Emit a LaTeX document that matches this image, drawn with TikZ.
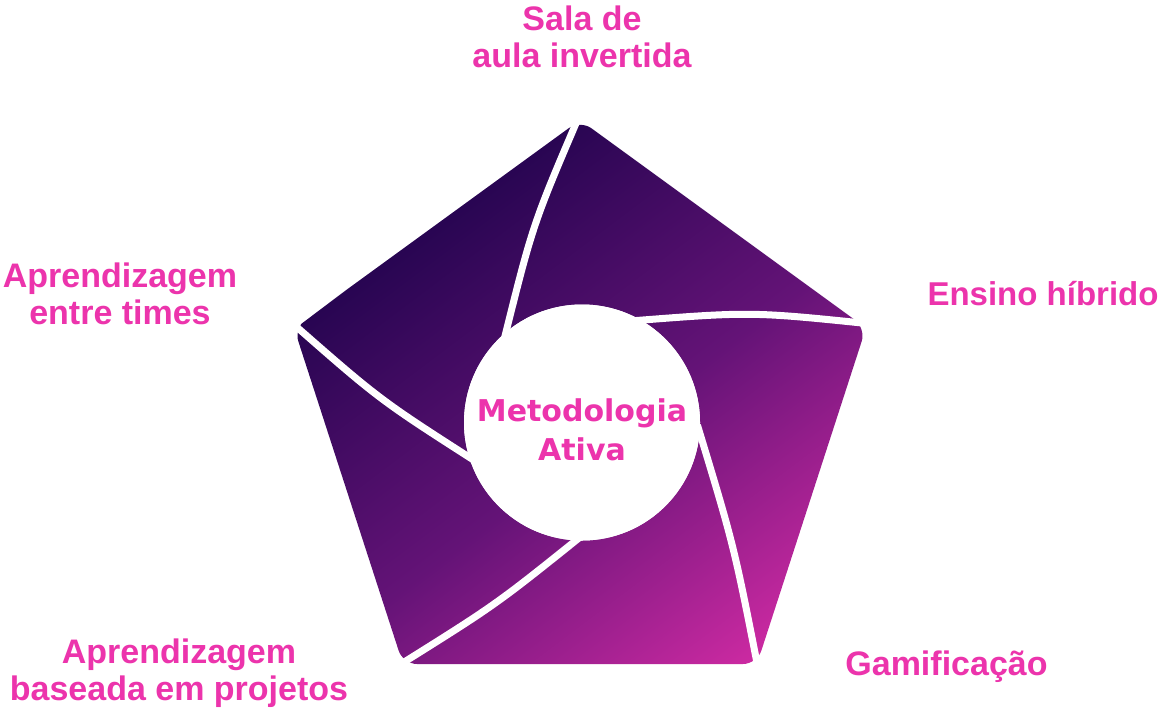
\documentclass[tikz,border=0pt]{standalone}
\usepackage{fontspec}
\setmainfont{Liberation Sans}
\newfontfamily\hubfont{DejaVu Sans}
\usetikzlibrary{calc}
\definecolor{lblpink}{RGB}{236,52,172}
\definecolor{gdark}{RGB}{40,5,82}
\definecolor{gmid}{RGB}{100,19,119}
\definecolor{gbright}{RGB}{205,42,162}
\begin{document}
\begin{tikzpicture}[x=1pt,y=-1pt,
  lbl/.style={text=lblpink, font=\bfseries\fontsize{34}{37}\selectfont, align=center, inner sep=0pt},
  gapline/.style={draw=white, line width=7pt, shorten <=-14pt, shorten >=-8pt},
  hubstyle/.style={circle, fill=white, minimum size=236pt, inner sep=0pt},
  ]
\useasboundingbox[fill=white] (0,0) rectangle (1161,710);
% pentagon corners
\coordinate (T) at (580,120);
\coordinate (R) at (866,328);
\coordinate (BR) at (757,664);
\coordinate (BL) at (403,664);
\coordinate (L) at (294,328);
\begin{scope}
  \clip[rounded corners=14pt] (T) -- (R) -- (BR) -- (BL) -- (L) -- cycle;
  \begin{scope}[transform canvas={rotate around={37:(596,443)}}]
    \shade[top color=gdark, bottom color=gbright, middle color=gmid] (196,170.5) rectangle (996,715.5);
  \end{scope}
\end{scope}
% central disc
\node[hubstyle] (hub) at (582,422.5) {};
% gap starting points near the corners
\coordinate (V1) at (577,121);
\coordinate (V2) at (862,323);
\coordinate (V3) at (757,663);
\coordinate (V4) at (409,659);
\coordinate (V5) at (299,329);
\coordinate (E1) at (hub.130);
\coordinate (E2) at (hub.60);
\coordinate (E3) at (hub.355);
\coordinate (E4) at (hub.267);
\coordinate (E5) at (hub.197);
\foreach \i/\b in {1/9,2/10,3/6,4/6,5/8}{
  \draw[gapline] (V\i) .. controls ($(V\i)!0.5!(E\i)!\b pt!-90:(E\i)$) .. (E\i);
}
\node[hubstyle] at (hub) {};
\node[text=lblpink, font=\hubfont\bfseries\fontsize{30}{39}\selectfont, align=center, inner sep=0pt] (hubtext) at (582,430) {Metodologia\\Ativa};
% labels
\node[lbl] (sala) at (582,37.1) {Sala de\\aula invertida};
\node[lbl, font=\bfseries\fontsize{33}{37}\selectfont, anchor=base] (ensino) at (1043,305) {Ensino híbrido};
\node[lbl, anchor=base] (gami) at (946.5,675) {Gamificação};
\node[lbl] (projetos) at (179,672.9) {Aprendizagem\\baseada em projetos};
\node[lbl] (times) at (120,294.3) {Aprendizagem\\entre times};
\end{tikzpicture}
\end{document}
